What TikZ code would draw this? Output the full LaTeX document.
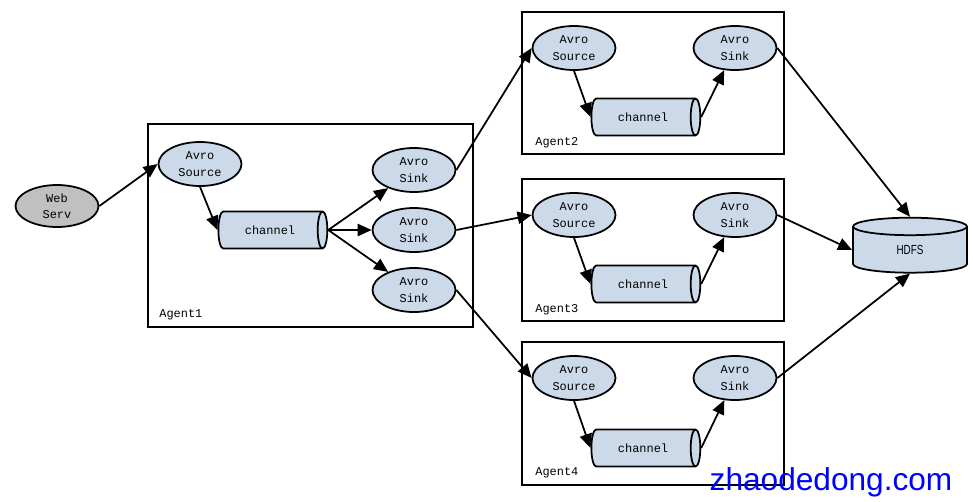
\documentclass[tikz,border=0pt]{standalone}
\usepackage{fontspec}
\setmonofont{Liberation Mono}
\setsansfont{Liberation Sans}
\newfontfamily\narrowsans[FakeStretch=0.75]{Liberation Sans}
\usetikzlibrary{shapes.geometric,arrows.meta}
\definecolor{avrofill}{RGB}{204,217,232}
\definecolor{webfill}{RGB}{192,192,192}

\begin{document}
\begin{tikzpicture}[
            x=0.02cm, y=-0.02cm,
            avro/.style={ellipse, draw, line width=1pt, fill=avrofill, minimum width=1.66cm, minimum height=0.88cm, inner sep=0pt, align=center, font=\ttfamily\fontsize{6.8}{9.4}\selectfont},
            chan/.style={cylinder, draw, line width=1pt, fill=avrofill, minimum height=2.18cm, minimum width=0.74cm, aspect=1.1, inner sep=0pt, font=\ttfamily\fontsize{6.8}{9.4}\selectfont},
            agent/.style={rectangle, draw, line width=1pt, inner sep=0pt},
            lbl/.style={anchor=base west, inner sep=0pt, font=\ttfamily\fontsize{6.8}{9.4}\selectfont},
            flow/.style={-{Triangle[length=8pt,width=7pt]}, line width=1pt},
        ]
            \path[use as bounding box] (0,0) rectangle (973,501);

            % Web server
            \node[avro, fill=webfill, minimum height=0.84cm] (web) at (57,206) {Web\\Serv};

            % Agent1
            \node[agent, minimum width=6.5cm, minimum height=4.06cm] (agent1) at (310.5,225.5) {};
            \node[lbl] (agent1lbl) at (159,317) {Agent1};
            \node[avro] (src1) at (200,164) {Avro\\Source};
            \node[chan] (ch1) at (270,230) {channel};
            \node[avro] (snk1a) at (414,170) {Avro\\Sink};
            \node[avro] (snk1b) at (414,230) {Avro\\Sink};
            \node[avro] (snk1c) at (414,290) {Avro\\Sink};

            % Agent2
            \node[agent, minimum width=5.24cm, minimum height=2.84cm] (agent2) at (653,83) {};
            \node[lbl] (agent2lbl) at (535,145) {Agent2};
            \node[avro] (src2) at (574,48) {Avro\\Source};
            \node[chan] (ch2) at (643,117) {channel};
            \node[avro] (snk2) at (735,48) {Avro\\Sink};

            % Agent3
            \node[agent, minimum width=5.24cm, minimum height=2.84cm] (agent3) at (653,250) {};
            \node[lbl] (agent3lbl) at (535,312) {Agent3};
            \node[avro] (src3) at (574,215) {Avro\\Source};
            \node[chan] (ch3) at (643,284) {channel};
            \node[avro] (snk3) at (735,215) {Avro\\Sink};

            % Agent4
            \node[agent, minimum width=5.24cm, minimum height=2.86cm] (agent4) at (653,413.5) {};
            \node[lbl] (agent4lbl) at (535,475) {Agent4};
            \node[avro] (src4) at (574,378) {Avro\\Source};
            \node[chan] (ch4) at (643,448) {channel};
            \node[avro] (snk4) at (735,378) {Avro\\Sink};

            % HDFS
            \node[cylinder, shape border rotate=90, draw, line width=1pt, fill=avrofill, minimum width=2.28cm, minimum height=1.1cm, aspect=0.65, inner sep=0pt, font=\narrowsans\fontsize{7.5}{9}\selectfont] (hdfs) at (910,250) {HDFS};

            % Data flow in Agent1
            \draw[flow] (web.east) -- (src1.west);
            \draw[flow] (src1.south) -- (ch1.west);
            \draw[flow] (ch1.east) -- (snk1a);
            \draw[flow] (ch1.east) -- (snk1b.west);
            \draw[flow] (ch1.east) -- (snk1c);

            % Agent1 to the other agents
            \draw[flow] (snk1a.east) -- (src2.west);
            \draw[flow] (snk1b.east) -- (src3.west);
            \draw[flow] (snk1c.east) -- (src4.west);

            % Data flow in Agent2, Agent3, Agent4
            \draw[flow] (src2.south) -- (ch2.west);
            \draw[flow] (ch2.east) -- (snk2);
            \draw[flow] (src3.south) -- (ch3.west);
            \draw[flow] (ch3.east) -- (snk3);
            \draw[flow] (src4.south) -- (ch4.west);
            \draw[flow] (ch4.east) -- (snk4);

            % Sinks to HDFS
            \draw[flow] (snk2.east) -- (hdfs.north);
            \draw[flow] (snk3.east) -- (hdfs.west);
            \draw[flow] (snk4.east) -- (hdfs.south);

            % Watermark
            \node[font=\sffamily\fontsize{18}{18}\selectfont, text=blue, inner sep=0pt] (mark) at (831,482) {zhaodedong.com};
        \end{tikzpicture}
\end{document}
